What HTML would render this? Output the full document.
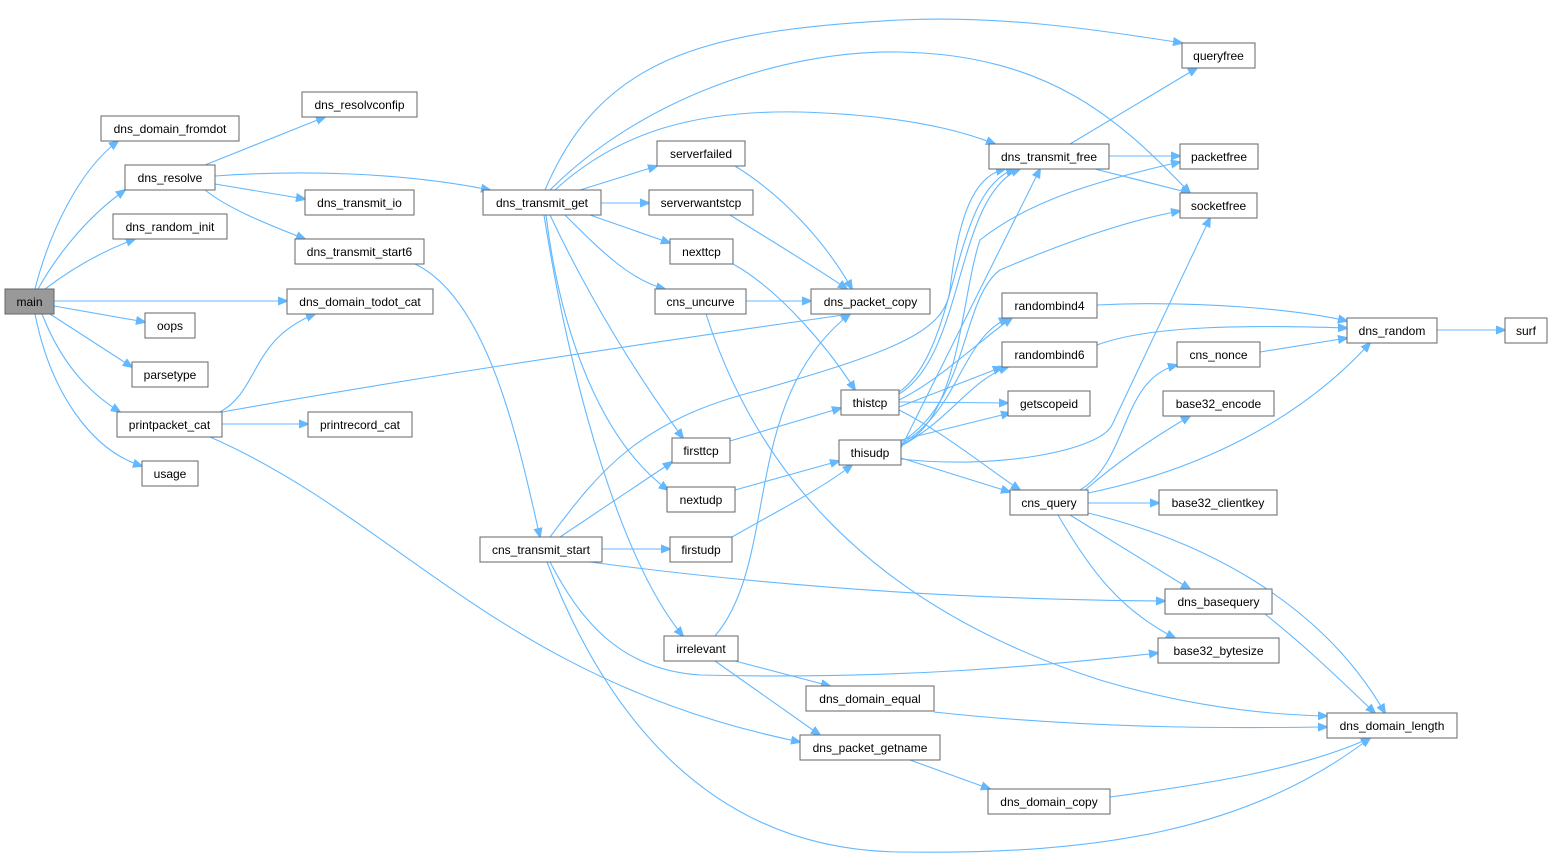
<!DOCTYPE html>
<html><head><meta charset="utf-8"><style>
html,body{margin:0;padding:0;background:#fff;}
svg{display:block;}
text{font-family:"Liberation Sans",Arial,sans-serif;font-size:12px;fill:#000;}
.n{fill:#fff;stroke:#666;stroke-width:1;}
.e{fill:none;stroke:#63b8ff;stroke-width:1.1;marker-end:url(#a);}
</style></head><body>
<svg width="1552" height="858" viewBox="0 0 1552 858" xmlns="http://www.w3.org/2000/svg">
<defs><marker id="a" viewBox="0 0 10 10" refX="9" refY="5" markerWidth="10" markerHeight="10" markerUnits="userSpaceOnUse" orient="auto"><path d="M0,1 L10,5 L0,9 z" fill="#63b8ff" stroke="#63b8ff"/></marker></defs>
<g>
<path class="e" d="M35,289 C50,230 80,170 118,141"/>
<path class="e" d="M38,289 C60,250 90,215 125,190"/>
<path class="e" d="M45,289 C70,270 100,252 135,239"/>
<path class="e" d="M54,301 L287,301"/>
<path class="e" d="M54,306 L145,322"/>
<path class="e" d="M50,314 L132,367"/>
<path class="e" d="M42,314 C60,360 85,390 120,412"/>
<path class="e" d="M35,314 C50,390 90,450 142,466"/>
<path class="e" d="M222,412 C400,380 600,350 850,314"/>
<path class="e" d="M220,412 C260,390 250,340 315,314"/>
<path class="e" d="M222,424 L308,424"/>
<path class="e" d="M210,437 C400,520 500,680 800,742"/>
<path class="e" d="M205,165 L325,117"/>
<path class="e" d="M215,176 C300,170 400,172 490,190"/>
<path class="e" d="M215,184 L305,199"/>
<path class="e" d="M205,190 C230,210 270,225 305,239"/>
<path class="e" d="M415,264 C490,300 520,450 540,537"/>
<path class="e" d="M545,190 C600,60 700,30 900,20 C1000,15 1100,30 1182,43"/>
<path class="e" d="M550,190 C640,100 780,50 900,52 C1050,55 1120,120 1190,193"/>
<path class="e" d="M555,190 C620,130 700,110 800,112 C900,115 960,130 995,144"/>
<path class="e" d="M580,190 L657,166"/>
<path class="e" d="M601,203 L649,203"/>
<path class="e" d="M590,215 L670,243"/>
<path class="e" d="M565,215 C600,250 630,280 665,289"/>
<path class="e" d="M550,215 C590,300 640,380 683,438"/>
<path class="e" d="M546,215 C560,330 600,440 668,490"/>
<path class="e" d="M544,215 C570,380 620,560 683,636"/>
<path class="e" d="M735,166 C790,200 830,250 852,289"/>
<path class="e" d="M730,215 C770,240 820,270 847,289"/>
<path class="e" d="M733,264 C780,290 830,350 855,390"/>
<path class="e" d="M746,301 L811,301"/>
<path class="e" d="M706,314 C750,450 850,600 1100,680 C1200,710 1280,715 1327,716"/>
<path class="e" d="M730,441 L841,408"/>
<path class="e" d="M735,490 L839,461"/>
<path class="e" d="M732,537 C770,515 820,490 852,465"/>
<path class="e" d="M550,537 C600,470 640,420 760,390 C900,350 945,330 950,290 C960,200 980,175 1005,169"/>
<path class="e" d="M560,537 L672,462"/>
<path class="e" d="M602,549 L670,549"/>
<path class="e" d="M590,562 C800,590 1000,600 1165,601"/>
<path class="e" d="M550,562 C580,620 620,670 700,675 C900,680 1050,665 1158,653"/>
<path class="e" d="M547,562 C600,700 700,850 900,852 C1100,855 1250,830 1370,738"/>
<path class="e" d="M715,636 C780,560 740,400 850,314"/>
<path class="e" d="M735,661 L830,686"/>
<path class="e" d="M715,661 L820,735"/>
<path class="e" d="M934,712 C1100,730 1250,728 1327,727"/>
<path class="e" d="M910,760 L990,789"/>
<path class="e" d="M1110,797 C1200,785 1300,770 1370,738"/>
<path class="e" d="M899,392 C960,350 950,190 1015,169"/>
<path class="e" d="M899,394 C965,355 955,195 1020,169"/>
<path class="e" d="M899,400 C940,380 980,340 1012,318"/>
<path class="e" d="M899,407 L1002,367"/>
<path class="e" d="M899,402 L1008,403"/>
<path class="e" d="M899,410 C940,430 990,470 1020,490"/>
<path class="e" d="M901,448 L1040,169"/>
<path class="e" d="M901,445 C960,420 960,300 980,240 C1030,200 1100,180 1180,162"/>
<path class="e" d="M901,442 C970,400 960,300 1000,270 C1070,240 1130,220 1180,211"/>
<path class="e" d="M901,444 C960,410 960,340 1008,318"/>
<path class="e" d="M901,446 C950,420 970,380 1008,367"/>
<path class="e" d="M901,440 L1010,413"/>
<path class="e" d="M901,458 L1010,492"/>
<path class="e" d="M901,459 C1000,470 1100,450 1112,425 L1210,218"/>
<path class="e" d="M1070,144 L1197,68"/>
<path class="e" d="M1109,156 L1180,156"/>
<path class="e" d="M1095,169 L1190,193"/>
<path class="e" d="M1097,305 C1200,300 1300,310 1347,321"/>
<path class="e" d="M1097,345 C1150,325 1250,325 1347,328"/>
<path class="e" d="M1437,330 L1505,330"/>
<path class="e" d="M1260,352 L1347,338"/>
<path class="e" d="M1080,490 C1130,460 1120,380 1177,365"/>
<path class="e" d="M1085,490 C1120,460 1150,440 1190,416"/>
<path class="e" d="M1088,493 C1200,470 1300,420 1370,343"/>
<path class="e" d="M1088,503 L1159,503"/>
<path class="e" d="M1070,515 L1190,589"/>
<path class="e" d="M1058,515 C1090,570 1120,610 1175,638"/>
<path class="e" d="M1088,513 C1200,540 1320,600 1385,713"/>
<path class="e" d="M1265,614 C1310,650 1340,680 1375,713"/>
</g>
<g>
<rect x="5" y="289" width="49" height="25" fill="#999" stroke="#666"/><text x="29.5" y="306" text-anchor="middle">main</text>
<rect class="n" x="101" y="116" width="138" height="25"/><text x="170" y="133" text-anchor="middle">dns_domain_fromdot</text>
<rect class="n" x="302" y="92" width="115" height="25"/><text x="359.5" y="109" text-anchor="middle">dns_resolvconfip</text>
<rect class="n" x="125" y="165" width="90" height="25"/><text x="170" y="182" text-anchor="middle">dns_resolve</text>
<rect class="n" x="305" y="190" width="109" height="25"/><text x="359.5" y="207" text-anchor="middle">dns_transmit_io</text>
<rect class="n" x="113" y="214" width="114" height="25"/><text x="170" y="231" text-anchor="middle">dns_random_init</text>
<rect class="n" x="295" y="239" width="129" height="25"/><text x="359.5" y="256" text-anchor="middle">dns_transmit_start6</text>
<rect class="n" x="287" y="289" width="146" height="25"/><text x="360" y="306" text-anchor="middle">dns_domain_todot_cat</text>
<rect class="n" x="145" y="313" width="50" height="25"/><text x="170" y="330" text-anchor="middle">oops</text>
<rect class="n" x="132" y="362" width="76" height="25"/><text x="170" y="379" text-anchor="middle">parsetype</text>
<rect class="n" x="117" y="412" width="105" height="25"/><text x="169.5" y="429" text-anchor="middle">printpacket_cat</text>
<rect class="n" x="308" y="412" width="104" height="25"/><text x="360" y="429" text-anchor="middle">printrecord_cat</text>
<rect class="n" x="142" y="461" width="56" height="25"/><text x="170" y="478" text-anchor="middle">usage</text>
<rect class="n" x="483" y="190" width="118" height="25"/><text x="542" y="207" text-anchor="middle">dns_transmit_get</text>
<rect class="n" x="657" y="141" width="88" height="25"/><text x="701" y="158" text-anchor="middle">serverfailed</text>
<rect class="n" x="649" y="190" width="104" height="25"/><text x="701" y="207" text-anchor="middle">serverwantstcp</text>
<rect class="n" x="670" y="239" width="63" height="25"/><text x="701.5" y="256" text-anchor="middle">nexttcp</text>
<rect class="n" x="655" y="289" width="91" height="25"/><text x="700.5" y="306" text-anchor="middle">cns_uncurve</text>
<rect class="n" x="811" y="289" width="119" height="25"/><text x="870.5" y="306" text-anchor="middle">dns_packet_copy</text>
<rect class="n" x="672" y="438" width="58" height="25"/><text x="701" y="455" text-anchor="middle">firsttcp</text>
<rect class="n" x="667" y="487" width="68" height="25"/><text x="701" y="504" text-anchor="middle">nextudp</text>
<rect class="n" x="480" y="537" width="122" height="25"/><text x="541" y="554" text-anchor="middle">cns_transmit_start</text>
<rect class="n" x="670" y="537" width="62" height="25"/><text x="701" y="554" text-anchor="middle">firstudp</text>
<rect class="n" x="664" y="636" width="74" height="25"/><text x="701" y="653" text-anchor="middle">irrelevant</text>
<rect class="n" x="806" y="686" width="128" height="25"/><text x="870" y="703" text-anchor="middle">dns_domain_equal</text>
<rect class="n" x="800" y="735" width="140" height="25"/><text x="870" y="752" text-anchor="middle">dns_packet_getname</text>
<rect class="n" x="988" y="789" width="122" height="25"/><text x="1049" y="806" text-anchor="middle">dns_domain_copy</text>
<rect class="n" x="841" y="390" width="58" height="25"/><text x="870" y="407" text-anchor="middle">thistcp</text>
<rect class="n" x="839" y="440" width="62" height="25"/><text x="870" y="457" text-anchor="middle">thisudp</text>
<rect class="n" x="989" y="144" width="120" height="25"/><text x="1049" y="161" text-anchor="middle">dns_transmit_free</text>
<rect class="n" x="1182" y="43" width="73" height="25"/><text x="1218.5" y="60" text-anchor="middle">queryfree</text>
<rect class="n" x="1180" y="144" width="78" height="25"/><text x="1219" y="161" text-anchor="middle">packetfree</text>
<rect class="n" x="1180" y="193" width="77" height="25"/><text x="1218.5" y="210" text-anchor="middle">socketfree</text>
<rect class="n" x="1002" y="293" width="95" height="25"/><text x="1049.5" y="310" text-anchor="middle">randombind4</text>
<rect class="n" x="1002" y="342" width="95" height="25"/><text x="1049.5" y="359" text-anchor="middle">randombind6</text>
<rect class="n" x="1008" y="391" width="82" height="25"/><text x="1049" y="408" text-anchor="middle">getscopeid</text>
<rect class="n" x="1010" y="490" width="78" height="25"/><text x="1049" y="507" text-anchor="middle">cns_query</text>
<rect class="n" x="1347" y="318" width="90" height="25"/><text x="1392" y="335" text-anchor="middle">dns_random</text>
<rect class="n" x="1505" y="318" width="42" height="25"/><text x="1526" y="335" text-anchor="middle">surf</text>
<rect class="n" x="1177" y="342" width="83" height="25"/><text x="1218.5" y="359" text-anchor="middle">cns_nonce</text>
<rect class="n" x="1163" y="391" width="111" height="25"/><text x="1218.5" y="408" text-anchor="middle">base32_encode</text>
<rect class="n" x="1159" y="490" width="118" height="25"/><text x="1218" y="507" text-anchor="middle">base32_clientkey</text>
<rect class="n" x="1165" y="589" width="107" height="25"/><text x="1218.5" y="606" text-anchor="middle">dns_basequery</text>
<rect class="n" x="1158" y="638" width="121" height="25"/><text x="1218.5" y="655" text-anchor="middle">base32_bytesize</text>
<rect class="n" x="1327" y="713" width="130" height="25"/><text x="1392" y="730" text-anchor="middle">dns_domain_length</text>
</g>
</svg>
</body></html>
